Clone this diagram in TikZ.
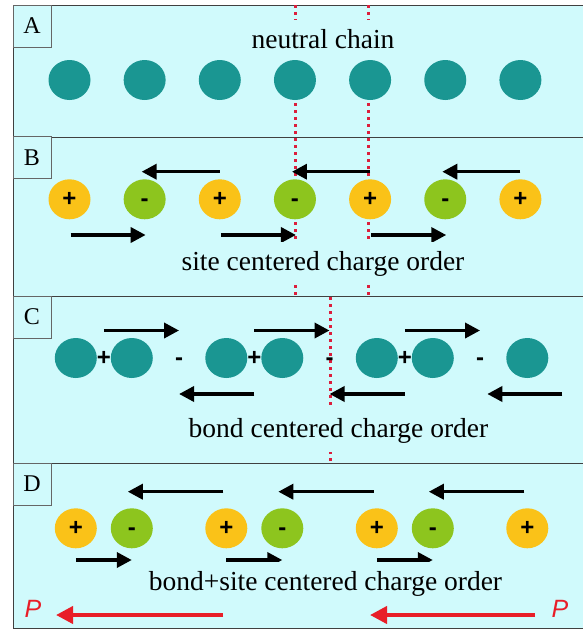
\documentclass[tikz,border=0pt]{standalone}
\usepackage{fontspec}
\setmainfont{Liberation Serif}
\newfontfamily\signfont{Liberation Sans}
\usepackage{tikz}
\usetikzlibrary{arrows.meta,shapes,positioning}
\definecolor{bg}{RGB}{208,250,252}
\definecolor{molcol}{RGB}{26,150,146}
\definecolor{poscol}{RGB}{250,194,24}
\definecolor{negcol}{RGB}{141,197,30}
\definecolor{cutcol}{RGB}{220,30,60}
\definecolor{pcol}{RGB}{232,30,40}
\tikzstyle{molec}=[ellipse, fill=molcol, minimum width=42pt, minimum height=40pt, inner sep=0pt]
\tikzstyle{cation}=[molec, fill=poscol, font=\signfont\bfseries\fontsize{24}{24}\selectfont]
\tikzstyle{anion}=[cation, fill=negcol]
\tikzstyle{sign}=[inner sep=0pt, font=\signfont\bfseries\fontsize{24}{24}\selectfont]
\tikzstyle{qarrow}=[draw, line width=3.5pt, -{Triangle[length=15pt,width=15pt]}]
\tikzstyle{parrow}=[draw=pcol, line width=4pt, -{Triangle[length=17pt,width=17pt]}]
\tikzstyle{redcut}=[draw=cutcol, line width=3pt, dash pattern=on 3pt off 4pt]
\tikzstyle{panel}=[draw=black!75, fill=bg, line width=1pt]
\tikzstyle{lbox}=[draw=black!60, fill=bg, line width=0.8pt, minimum width=38pt, minimum height=42pt, inner sep=0pt, font=\fontsize{24}{24}\selectfont]
\tikzstyle{chaintext}=[fill=bg, inner xsep=3pt, inner ysep=9pt, anchor=base, font=\fontsize{27.5}{33}\selectfont]
\begin{document}
\begin{tikzpicture}[x=1pt, y=1pt, node distance=75.15pt]
\useasboundingbox (0,0) rectangle (583,-630);
% panels
\draw[panel] (13,-5) rectangle (585,-137);
\draw[panel] (13,-137) rectangle (585,-296);
\draw[panel] (13,-296) rectangle (585,-463);
\draw[panel] (13,-463) rectangle (585,-628);
\node[lbox] (la) at (32,-26) {A};
\node[lbox] (lb) at (32,-157.5) {B};
\node[lbox] (lc) at (32,-317) {C};
\node[lbox] (ld) at (32,-484) {D};

% dotted cuts
\coordinate (cut0t) at (295,-5);
\coordinate (cut0b) at (295,-296);
\coordinate (cut1t) at (368.5,-5);
\coordinate (cut1b) at (368.5,-296);
\coordinate (cut2t) at (330,-297);
\coordinate (cut2b) at (330,-463);
\draw[redcut] (cut0t) -- (cut0b);
\draw[redcut] (cut1t) -- (cut1b);
\draw[redcut] (cut2t) -- (cut2b);

% A
\node[molec] (a0) at (69.5,-80) {};
\node[molec, right of=a0] (a1) {};
\node[molec, right of=a1] (a2) {};
\node[molec, right of=a2] (a3) {};
\node[molec, right of=a3] (a4) {};
\node[molec, right of=a4] (a5) {};
\node[molec, right of=a5] (a6) {};

% B
\node[cation, below of=a0, node distance=119.3pt] (b0) {+};
\node[anion, below of=a1, node distance=119.3pt] (b1) {\vphantom{+}-};
\node[cation, below of=a2, node distance=119.3pt] (b2) {+};
\node[anion, below of=a3, node distance=119.3pt] (b3) {\vphantom{+}-};
\node[cation, below of=a4, node distance=119.3pt] (b4) {+};
\node[anion, below of=a5, node distance=119.3pt] (b5) {\vphantom{+}-};
\node[cation, below of=a6, node distance=119.3pt] (b6) {+};
\draw[qarrow] ([yshift=27.6pt]b2.center) -- ([xshift=-3pt,yshift=27.6pt]b1.center);
\draw[qarrow] ([yshift=27.6pt]b4.center) -- ([xshift=-3pt,yshift=27.6pt]b3.center);
\draw[qarrow] ([yshift=27.6pt]b6.center) -- ([xshift=-3pt,yshift=27.6pt]b5.center);
\draw[qarrow] ([xshift=1pt,yshift=-35.7pt]b0.center) -- ([xshift=1pt,yshift=-35.7pt]b1.center);
\draw[qarrow] ([xshift=1pt,yshift=-35.7pt]b2.center) -- ([xshift=1pt,yshift=-35.7pt]b3.center);
\draw[qarrow] ([xshift=1pt,yshift=-35.7pt]b4.center) -- ([xshift=1pt,yshift=-35.7pt]b5.center);

% C
\node[molec] (c0) at (75.8,-358) {};
\node[sign, right of=c0, node distance=28pt] (cp0) {+};
\node[molec, right of=cp0, node distance=28pt] (c1) {};
\node[sign, right of=c1, node distance=47.25pt] (cm0) {\vphantom{+}-};
\node[molec, right of=cm0, node distance=47.25pt] (c2) {};
\node[sign, right of=c2, node distance=28pt] (cp1) {+};
\node[molec, right of=cp1, node distance=28pt] (c3) {};
\node[sign, right of=c3, node distance=47.25pt] (cm1) {\vphantom{+}-};
\node[molec, right of=cm1, node distance=47.25pt] (c4) {};
\node[sign, right of=c4, node distance=28pt] (cp2) {+};
\node[molec, right of=cp2, node distance=28pt] (c5) {};
\node[sign, right of=c5, node distance=47.25pt] (cm2) {\vphantom{+}-};
\node[molec, right of=cm2, node distance=47.25pt] (c6) {};
\draw[qarrow] ([yshift=27.5pt]cp0.center) -- ([yshift=27.5pt]cm0.center);
\draw[qarrow] ([yshift=27.5pt]cp1.center) -- ([yshift=27.5pt]cm1.center);
\draw[qarrow] ([yshift=27.5pt]cp2.center) -- ([yshift=27.5pt]cm2.center);
\draw[qarrow] ([yshift=-36pt]cp1.center) -- ([yshift=-36pt]cm0.center);
\draw[qarrow] ([yshift=-36pt]cp2.center) -- ([yshift=-36pt]cm1.center);
\draw[qarrow] ([xshift=35pt,yshift=-36pt]c6.center) -- ([xshift=-40pt,yshift=-36pt]c6.center);

% D
\node[cation, below of=c0, node distance=170.3pt] (d0) {+};
\node[anion, below of=c1, node distance=170.3pt] (d1) {\vphantom{+}-};
\node[cation, below of=c2, node distance=170.3pt] (d2) {+};
\node[anion, below of=c3, node distance=170.3pt] (d3) {\vphantom{+}-};
\node[cation, below of=c4, node distance=170.3pt] (d4) {+};
\node[anion, below of=c5, node distance=170.3pt] (d5) {\vphantom{+}-};
\node[cation, below of=c6, node distance=170.3pt] (d6) {+};
\draw[qarrow] ([xshift=-3pt,yshift=36.6pt]d2.center) -- ([xshift=-4pt,yshift=36.6pt]d1.center);
\draw[qarrow] ([xshift=-3pt,yshift=36.6pt]d4.center) -- ([xshift=-4pt,yshift=36.6pt]d3.center);
\draw[qarrow] ([xshift=-3pt,yshift=36.6pt]d6.center) -- ([xshift=-4pt,yshift=36.6pt]d5.center);
\draw[qarrow] ([yshift=-31.7pt]d0.center) -- ([yshift=-31.7pt]d1.center);
\draw[qarrow] ([yshift=-31.7pt]d2.center) -- ([yshift=-31.7pt]d3.center);
\draw[qarrow] ([yshift=-31.7pt]d4.center) -- ([yshift=-31.7pt]d5.center);

% texts
\node[chaintext] (ta) at (323,-48) {neutral chain};
\node[chaintext] (tb) at (323,-270) {site centered charge order};
\node[chaintext] (tc) at (338.5,-437) {bond centered charge order};
\node[chaintext] (td) at (325.5,-590.5) {bond+site centered charge order};

% polarization
\node[text=pcol, font=\signfont\itshape\fontsize{25}{25}\selectfont] (pl) at (33,-609) {P};
\node[text=pcol, font=\signfont\itshape\fontsize{25}{25}\selectfont] (pr) at (560,-609) {P};
\coordinate (pl0) at (223,-615);
\coordinate (pl1) at (56,-615);
\coordinate (pr0) at (535,-615);
\coordinate (pr1) at (370,-615);
\draw[parrow] (pl0) -- (pl1);
\draw[parrow] (pr0) -- (pr1);
\end{tikzpicture}
\end{document}
